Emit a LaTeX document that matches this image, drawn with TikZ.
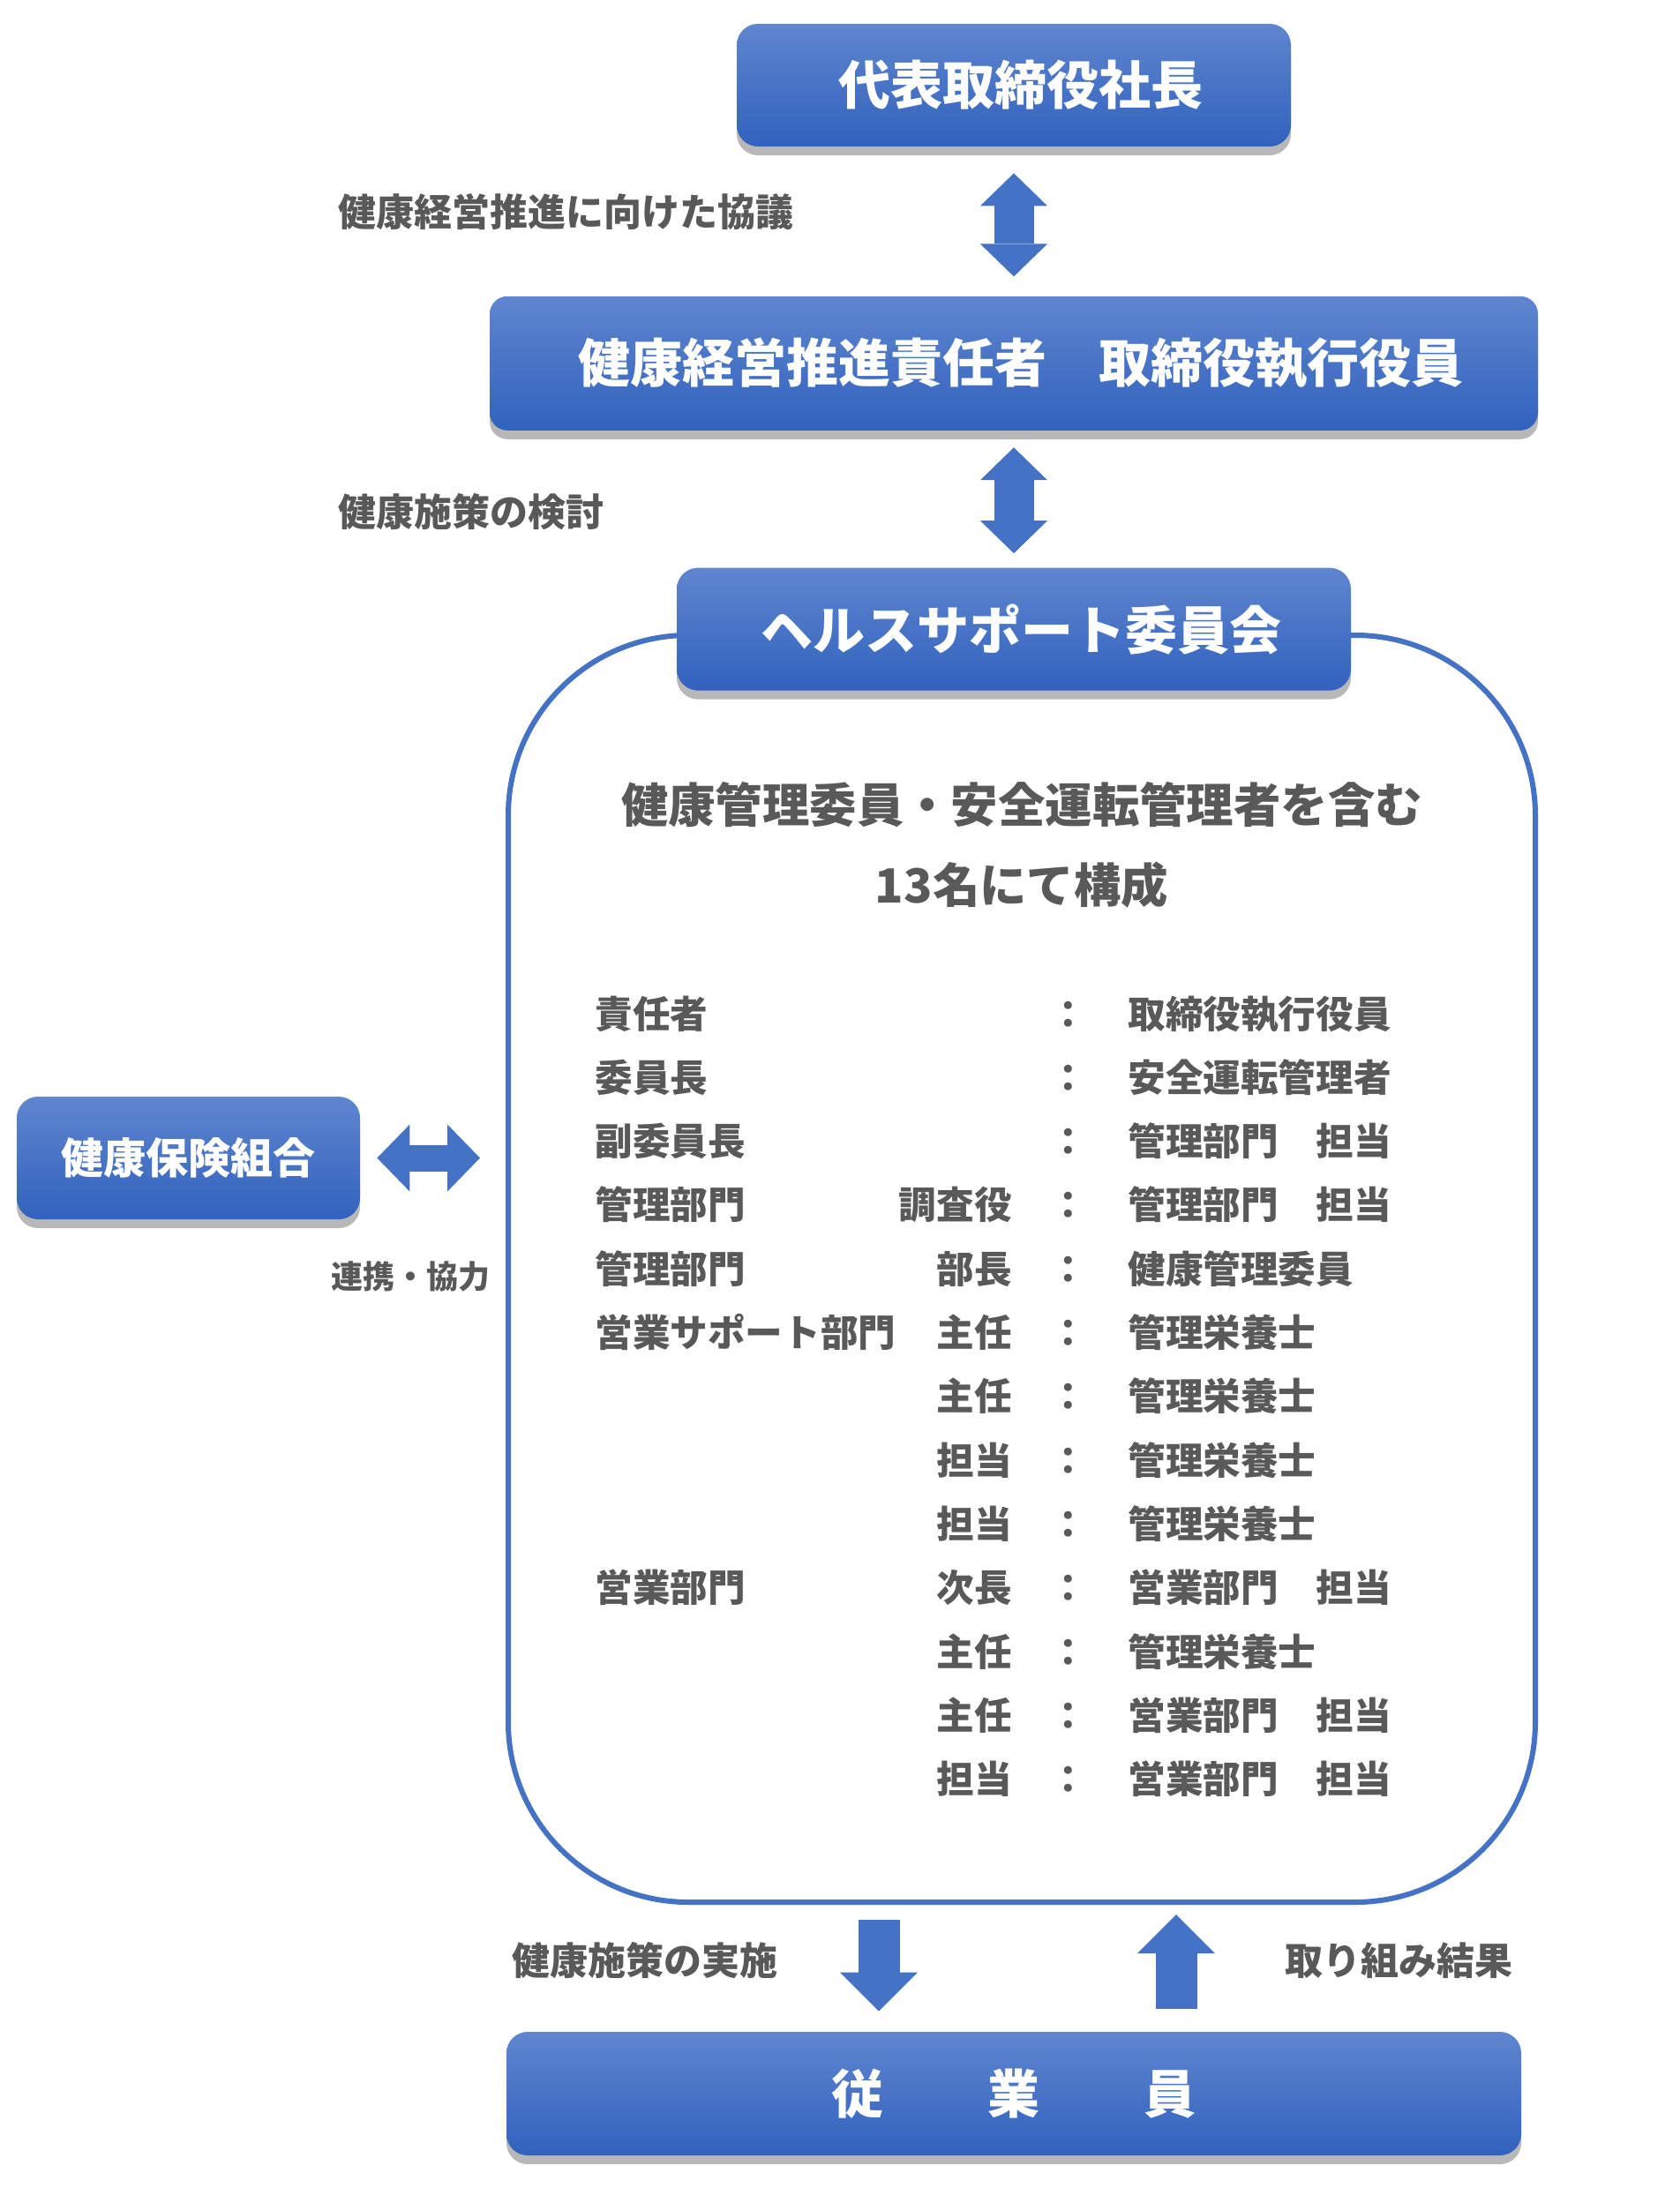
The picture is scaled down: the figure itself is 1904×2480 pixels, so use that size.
\documentclass[tikz,border=0pt]{standalone}
\usepackage{fontspec}
\setmainfont{Noto Sans CJK JP}
\usepackage{xcolor}
\usepackage{tikz}
\usetikzlibrary{arrows.meta, positioning, calc, shadows}
\definecolor{boxtop}{HTML}{5F86CF}
\definecolor{boxbot}{HTML}{3162BE}
\definecolor{linkblue}{HTML}{4472C4}
\definecolor{txtgray}{HTML}{595959}

\begin{document}
\begin{tikzpicture}[
    x=0.5pt, y=-0.5pt,
    box/.style={rectangle, rounded corners=12pt, top color=boxtop, bottom color=boxbot, text=white, inner sep=0pt, minimum height=69.5pt, font=\fontsize{29.5}{34}\selectfont\bfseries, drop shadow={shadow xshift=0pt, shadow yshift=-5pt, opacity=0.28, fill=black}},
    dblarr/.style={line width=22.5pt, draw=linkblue, {Triangle[length=18.5pt, width=38pt, line width=0pt]}-{Triangle[length=18.5pt, width=38pt, line width=0pt]}},
    onearr/.style={line width=23.5pt, draw=linkblue, -{Triangle[length=22pt, width=44pt, line width=0pt]}},
    note/.style={anchor=west, inner sep=0pt, text=txtgray, font=\fontsize{21.5}{26}\selectfont\bfseries},
    cell/.style={inner sep=0pt, text height=0.8em, text depth=0.2em, text=txtgray, font=\fontsize{21.3}{26}\selectfont\bfseries},
  ]
    \useasboundingbox (0,0) rectangle (1904,2480);

    % frame of the committee
    \node[draw=linkblue, line width=3pt, rounded corners=102pt, minimum width=582pt, minimum height=718pt] (frame) at (1158,1438) {};

    \node[box, minimum width=314pt] (ceo) at (1149,96.5) {\hspace*{8pt}代表取締役社長};
    \node[box, minimum width=594pt, minimum height=76pt, rounded corners=10pt, below=84.5pt of ceo] (promo) {\hspace*{8pt}健康経営推進責任者　取締役執行役員};
    \node[box, minimum width=382pt, below=77.5pt of promo] (cmte) {\hspace*{8.5pt}ヘルスサポート委員会};
    \node[box, minimum width=194.5pt, font=\fontsize{24}{28}\selectfont\bfseries] (kenpo) at (213.5,1312.5) {健康保険組合};
    \node[box, minimum width=575pt, minimum height=70pt] (staff) at (1149,2373) {従　　業　　員};

    \draw[dblarr, shorten <=15pt, shorten >=11pt] (ceo.south) -- (promo.north);
    \draw[dblarr, shorten <=9.5pt, shorten >=8pt] (promo.south) -- (cmte.north);
    \draw[dblarr, line width=15pt, shorten <=9.5pt, shorten >=14.5pt] (kenpo.east) -- (kenpo.east -| frame.west);

    \coordinate (dnx) at (996,0);
    \coordinate (upx) at (1333,0);
    \draw[onearr, shorten <=8.5pt, shorten >=11.5pt] (frame.south -| dnx) -- (staff.north -| dnx);
    \draw[onearr, shorten <=13pt, shorten >=5.5pt] (staff.north -| upx) -- (frame.south -| upx);

    \node[note] (n1) at (383,240) {健康経営推進に向けた協議};
    \node[note] (n2) at (383,580) {健康施策の検討};
    \node[note, font=\fontsize{18}{22}\selectfont\bfseries] (n3) at (375,1447) {連携・協力};
    \node[note] (n4) at (580,2222) {健康施策の実施};
    \node[note] (n5) at (1456,2222) {取り組み結果};

    \node[align=center, inner sep=0pt, text=txtgray, font=\fontsize{26.7}{45.5}\selectfont\bfseries] (head) at (1158,958) {健康管理委員・安全運転管理者を含む\\13名にて構成};

    % member list
    \foreach \i/\dept/\post/\role in {0/責任者//取締役執行役員, 1/委員長//安全運転管理者, 2/副委員長//管理部門　担当, 3/管理部門/調査役/管理部門　担当, 4/管理部門/部長/健康管理委員, 5/営業サポート部門/主任/管理栄養士, 6//主任/管理栄養士, 7//担当/管理栄養士, 8//担当/管理栄養士, 9/営業部門/次長/営業部門　担当, 10//主任/管理栄養士, 11//主任/営業部門　担当, 12//担当/営業部門　担当} {
      \node[cell, anchor=west] (d\i) at (674,1159+72.3*\i) {\dept};
      \node[cell, anchor=east] (p\i) at (1147,1159+72.3*\i) {\post};
      \node[cell] (c\i) at (1211,1159+72.3*\i) {：};
      \node[cell, anchor=west] (r\i) at (1278,1159+72.3*\i) {\role};
    }
  \end{tikzpicture}
\end{document}
